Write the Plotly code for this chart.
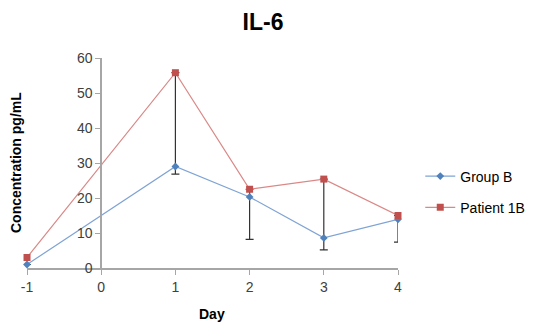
import plotly.graph_objects as go

days = [-1, 1, 2, 3, 4]
group_b = [1.0, 29.0, 20.3, 8.6, 13.9]
patient_1b = [3.0, 55.8, 22.5, 25.4, 15.0]
err_plus = [0.0, 26.8, 2.2, 16.8, 1.1]
err_minus = [0.0, 2.2, 12.1, 3.4, 6.5]
x_ticks = [-1, 0, 1, 2, 3, 4]
x_tick_labels = ["-1", "0", "1", "2", "3", "4"]
y_ticks = [0, 10, 20, 30, 40, 50, 60]

FONT = "Liberation Sans"
fig = go.Figure()
fig.add_trace(go.Scatter(
    x=days, y=group_b, mode="lines+markers", name="Group B",
    line=dict(color="#7FA3D5", width=1.2),
    marker=dict(symbol="diamond", size=6, color="#4F81BD"),
    error_y=dict(type="data", symmetric=False, array=err_plus, arrayminus=err_minus,
                 color="#333333", thickness=1.2, width=4),
    legendgroup="a", cliponaxis=False,
))
fig.add_trace(go.Scatter(
    x=days, y=patient_1b, mode="lines+markers", name="Patient 1B",
    line=dict(color="#DA8886", width=1.2),
    marker=dict(symbol="square", size=7, color="#C0504D"),
    legendgroup="b", cliponaxis=False,
))

fig.update_layout(
    width=558, height=324,
    margin=dict(l=27, r=160, t=58, b=56, autoexpand=False),
    paper_bgcolor="white", plot_bgcolor="white",
    title=dict(text="<b>IL-6</b>", x=263/558, xanchor="center", y=1-22/324, yanchor="middle",
               font=dict(family=FONT, size=23, color="#000000")),
    font=dict(family=FONT, size=14, color="#404040"),
    showlegend=True,
    legend=dict(x=1.06, xanchor="left", y=0.362, yanchor="middle", tracegroupgap=10,
                font=dict(family=FONT, size=14, color="#000000"), bgcolor="rgba(0,0,0,0)"),
    xaxis=dict(range=[-1, 4], tickvals=x_ticks, ticktext=x_tick_labels, showgrid=False,
               zeroline=False, automargin=False,
               showline=True, linecolor="#A6A6A6", linewidth=1.5,
               ticks="outside", ticklen=5, tickcolor="#A6A6A6",
               tickfont=dict(size=14, color="#404040"), fixedrange=True),
    yaxis=dict(range=[0, 60], tickvals=y_ticks, showgrid=False, zeroline=False,
               anchor="free", position=0.2, automargin=False,
               showline=True, linecolor="#A6A6A6", linewidth=1.5,
               ticks="outside", ticklen=5, tickcolor="#A6A6A6",
               tickfont=dict(size=14, color="#404040"), fixedrange=True),
    annotations=[
        dict(text="<b>Day</b>", xref="paper", yref="paper", x=(212-27)/371, y=-46/210,
             xanchor="center", yanchor="middle", showarrow=False,
             font=dict(family=FONT, size=14, color="#000000")),
        dict(text="<b>Concentration pg/mL</b>", xref="paper", yref="paper", x=-11/371,
             y=(268-163)/210, xanchor="center", yanchor="middle", textangle=-90,
             showarrow=False, font=dict(family=FONT, size=14, color="#000000")),
    ],
)
fig.write_html("out.html", config={"displayModeBar": False},
               post_script="document.body.style.margin='0';")
